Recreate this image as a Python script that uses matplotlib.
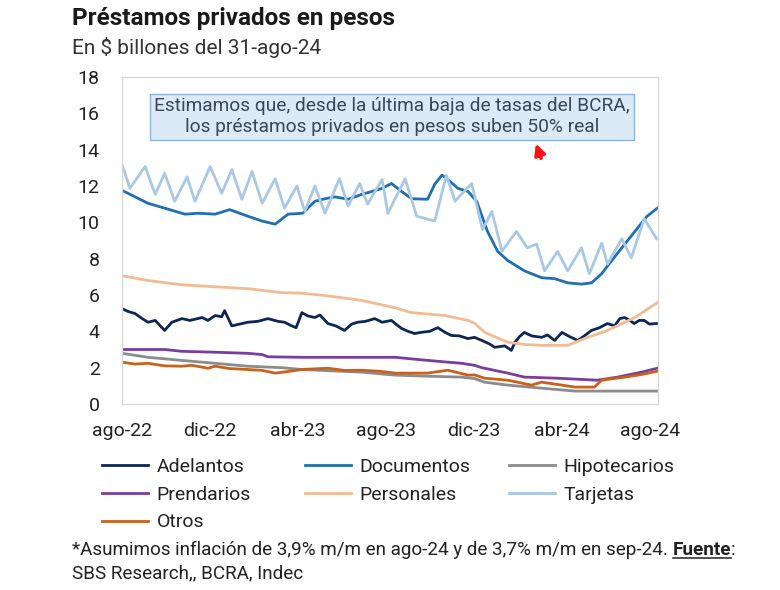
import matplotlib
matplotlib.use("Agg")
import matplotlib.pyplot as plt
from matplotlib.lines import Line2D
import pandas as pd

plt.rcParams['font.family'] = ['Roboto', 'DejaVu Sans']

START = pd.Timestamp('2022-08-01')

# ---- data (days since 2022-08-01, value in $ billones) ----
adel_days = [0, 8, 18, 28, 36, 46, 53, 59, 69, 83, 94, 111, 119, 129, 138, 142, 152, 163, 174, 188,
             202, 216, 225, 235, 241, 249, 257, 267, 274, 285, 296, 308, 318, 326, 337, 350, 360, 373,
             379, 387, 396, 405, 415, 426, 437, 447, 456, 467, 479, 488, 498, 509, 516, 530, 539, 544,
             550, 557, 567, 581, 589, 599, 609, 620, 631, 640, 650, 661, 672, 682, 689, 696, 703, 709,
             716, 723, 730, 740]
adel_vals = [5.25, 5.1, 4.98, 4.7, 4.5, 4.6, 4.3, 4.05, 4.5, 4.7, 4.6, 4.76, 4.6, 4.87, 4.8, 5.14, 4.3,
             4.4, 4.5, 4.55, 4.7, 4.55, 4.5, 4.3, 4.2, 5.03, 4.85, 4.76, 4.9, 4.43, 4.3, 4.05, 4.4, 4.5,
             4.55, 4.7, 4.5, 4.6, 4.4, 4.16, 4.0, 3.88, 3.95, 4.0, 4.2, 3.95, 3.77, 3.75, 3.6, 3.67, 3.5,
             3.3, 3.12, 3.2, 2.95, 3.4, 3.7, 3.94, 3.75, 3.67, 3.8, 3.5, 3.94, 3.7, 3.5, 3.75, 4.05, 4.2,
             4.43, 4.3, 4.7, 4.76, 4.6, 4.43, 4.6, 4.6, 4.4, 4.43]

doc_days = [0, 36, 59, 87, 105, 129, 149, 174, 194, 212, 230, 250, 267, 281, 295, 313, 332, 346, 360,
            373, 387, 401, 423, 433, 443, 451, 465, 479, 491, 506, 520, 534, 557, 581, 599, 617, 636,
            650, 664, 678, 696, 714, 727, 741]
doc_vals = [11.76, 11.05, 10.78, 10.45, 10.5, 10.45, 10.7, 10.34, 10.07, 9.9, 10.45, 10.5, 11.16, 11.3,
            11.4, 11.27, 11.54, 11.7, 11.87, 12.14, 11.7, 11.3, 11.27, 12.1, 12.6, 12.36, 11.87, 11.7,
            11.16, 9.5, 8.4, 7.9, 7.33, 6.95, 6.9, 6.67, 6.6, 6.67, 7.17, 7.9, 8.8, 9.7, 10.34, 10.78]

hip_days = [0, 36, 83, 129, 174, 221, 249, 332, 378, 423, 470, 488, 502, 534, 581, 627, 741]
hip_vals = [2.79, 2.57, 2.4, 2.24, 2.08, 2.0, 1.9, 1.75, 1.59, 1.53, 1.48, 1.4, 1.2, 1.04, 0.87, 0.71, 0.71]

pren_days = [0, 59, 83, 129, 174, 194, 202, 250, 378, 423, 470, 488, 498, 534, 557, 603, 658, 686, 719, 741]
pren_vals = [3.0, 3.0, 2.9, 2.85, 2.79, 2.72, 2.6, 2.57, 2.57, 2.4, 2.24, 2.13, 2.0, 1.7, 1.48, 1.42,
             1.31, 1.48, 1.75, 1.97]

pers_days = [0, 36, 83, 129, 174, 221, 250, 285, 332, 378, 401, 447, 479, 488, 502, 512, 534, 557, 581,
             617, 640, 672, 710, 741]
pers_vals = [7.06, 6.8, 6.56, 6.45, 6.35, 6.13, 6.1, 5.95, 5.7, 5.3, 5.03, 4.87, 4.6, 4.45, 3.94, 3.77,
             3.4, 3.28, 3.23, 3.23, 3.6, 4.05, 4.76, 5.58]

tarj_days = [0, 11, 32, 46, 59, 73, 90, 101, 122, 138, 152, 166, 180, 194, 212, 225, 242, 253, 267, 281,
             301, 313, 329, 340, 360, 368, 392, 408, 433, 449, 461, 484, 499, 512, 526, 546, 561, 574,
             585, 603, 617, 636, 647, 664, 672, 692, 705, 723, 740]
tarj_vals = [13.2, 11.87, 13.07, 11.54, 12.7, 11.16, 12.5, 11.16, 13.07, 11.6, 12.9, 11.27, 12.8, 11.05,
             12.4, 10.78, 12.0, 10.6, 12.0, 10.5, 12.4, 10.9, 12.14, 11.0, 12.36, 10.5, 12.4, 10.34,
             10.07, 12.6, 11.16, 12.14, 9.6, 10.6, 8.4, 9.5, 8.6, 8.8, 7.33, 8.4, 7.33, 8.6, 7.17, 8.86,
             7.7, 9.1, 8.04, 10.2, 9.1]

otros_days = [0, 18, 36, 59, 83, 97, 119, 129, 149, 174, 194, 212, 232, 249, 285, 308, 332, 357, 378,
              423, 451, 479, 488, 502, 534, 567, 581, 609, 627, 654, 664, 696, 716, 741]
otros_vals = [2.3, 2.2, 2.24, 2.1, 2.08, 2.13, 1.97, 2.08, 1.95, 1.9, 1.85, 1.7, 1.8, 1.9, 1.97, 1.85,
              1.86, 1.8, 1.7, 1.7, 1.86, 1.59, 1.6, 1.42, 1.31, 1.04, 1.2, 1.04, 0.93, 0.93, 1.31, 1.48,
              1.6, 1.8]

series_names = ['Adelantos', 'Documentos', 'Hipotecarios', 'Prendarios', 'Personales', 'Tarjetas', 'Otros']
series_colors = ['#0d2656', '#1f6fb2', '#8c8c8c', '#7a3d9e', '#f3bb93', '#a9c8e6', '#c9611c']
series_data = [(adel_days, adel_vals), (doc_days, doc_vals), (hip_days, hip_vals), (pren_days, pren_vals),
               (pers_days, pers_vals), (tarj_days, tarj_vals), (otros_days, otros_vals)]

xtick_dates = ['2022-08-01', '2022-12-01', '2023-04-01', '2023-08-01', '2023-12-01', '2024-04-01', '2024-08-01']
xtick_labels = ['ago-22', 'dic-22', 'abr-23', 'ago-23', 'dic-23', 'abr-24', 'ago-24']
yticks = [0, 2, 4, 6, 8, 10, 12, 14, 16, 18]

# ---- figure ----
fig = plt.figure(figsize=(7.8, 5.9), dpi=100)
ax = fig.add_axes([122 / 780, 1 - 404 / 590, 536 / 780, 327 / 590])

lines = {}
for name, color, (d, v) in zip(series_names, series_colors, series_data):
    dates = START + pd.to_timedelta(d, unit='D')
    ln, = ax.plot(dates, v, color=color, lw=2.0, solid_joinstyle='round', label=name)
    lines[name] = ln

ax.set_ylim(0, 18)
ax.set_yticks(yticks)
ax.set_xlim(START, START + pd.Timedelta(days=742))
ax.set_xticks(pd.to_datetime(xtick_dates))
ax.set_xticklabels(xtick_labels)
ax.tick_params(axis='both', length=0, labelsize=14, labelcolor='#222222')
ax.tick_params(axis='y', pad=16)
ax.tick_params(axis='x', pad=13)
for s in ax.spines.values():
    s.set_color('#d9d9d9')
    s.set_linewidth(1.0)

# annotation box
ax.text(0.504, 0.878,
        'Estimamos que, desde la última baja de tasas del BCRA,\nlos préstamos privados en pesos suben 50% real',
        transform=ax.transAxes, ha='center', va='center', fontsize=13.8, color='#3b4656',
        linespacing=1.2,
        bbox=dict(boxstyle='square,pad=0.2', facecolor='#dce9f6', edgecolor='#8fb3da', lw=1))

# red arrow
ax.annotate('', xy=(535 / 780, 1 - 141 / 590), xytext=(542 / 780, 1 - 161 / 590),
            xycoords='figure fraction', textcoords='figure fraction',
            arrowprops=dict(arrowstyle='-|>', color='#ff1010', lw=2.5, mutation_scale=16))

# titles
fig.text(72 / 780, 1 - 19 / 590, 'Préstamos privados en pesos', fontsize=17.5, fontweight='bold',
         color='#1a1a1a', va='center', ha='left')
fig.text(72 / 780, 1 - 48 / 590, 'En $ billones del 31-ago-24', fontsize=15, color='#333333',
         va='center', ha='left')

# legend in three columns
cols = [(['Adelantos', 'Prendarios', 'Otros'], 102), (['Documentos', 'Personales'], 305),
        (['Hipotecarios', 'Tarjetas'], 509)]
for names, xpix in cols:
    fig.legend([lines[n] for n in names], names, loc='upper left',
               bbox_to_anchor=(xpix / 780, 1 - 458 / 590), frameon=False, fontsize=14,
               handlelength=2.35, handletextpad=0.45, labelspacing=0.5, borderpad=0, borderaxespad=0,
               labelcolor='#222222')

# footnote
fig.canvas.draw()
renderer = fig.canvas.get_renderer()
FS = 13.6
t1 = fig.text(72 / 780, 1 - 550 / 590,
              '*Asumimos inflación de 3,9% m/m en ago-24 y de 3,7% m/m en sep-24. ',
              fontsize=FS, color='#222222', va='center', ha='left')
bb1 = t1.get_window_extent(renderer)
x2 = bb1.x1 / fig.bbox.width
t2 = fig.text(x2, 1 - 550 / 590, 'Fuente', fontsize=FS, fontweight='bold', color='#222222',
              va='center', ha='left')
bb2 = t2.get_window_extent(renderer)
fig.text(bb2.x1 / fig.bbox.width, 1 - 550 / 590, ':', fontsize=FS, color='#222222', va='center', ha='left')
fig.add_artist(Line2D([bb2.x0 / fig.bbox.width, bb2.x1 / fig.bbox.width],
                      [(bb2.y0 + 1) / fig.bbox.height] * 2, color='#222222', lw=1.1))
fig.text(72 / 780, 1 - 573 / 590, 'SBS Research,, BCRA, Indec', fontsize=FS, color='#222222',
         va='center', ha='left')

fig.savefig('out.png', dpi=100)
